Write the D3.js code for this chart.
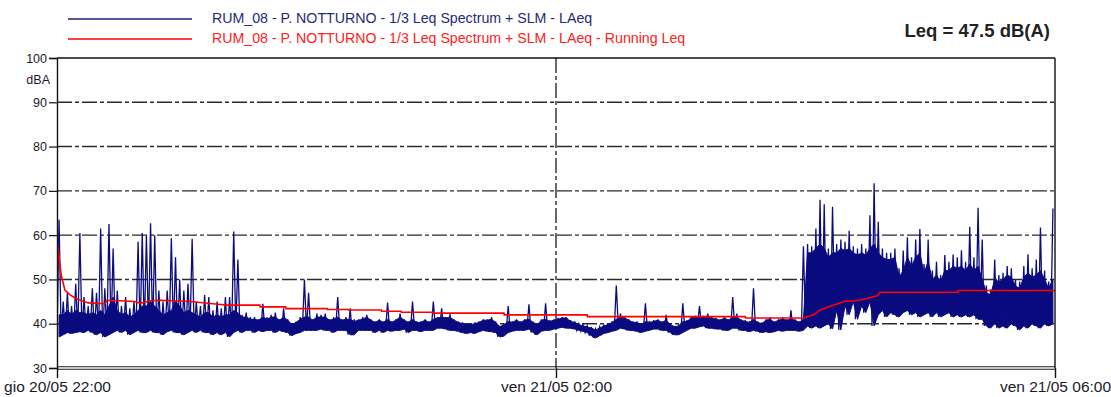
<!DOCTYPE html>
<html><head><meta charset="utf-8">
<script src="https://cdn.jsdelivr.net/npm/d3@7"></script>
<style>
body{margin:0;background:#fff}
svg{display:block;font-family:"Liberation Sans",Arial,sans-serif}
</style>
</head><body>
<svg id="chart" width="1111" height="397"></svg>
<script>
// ---------- data ----------
const yTicks = [30, 40, 50, 60, 70, 80, 90, 100];
const xTickMinutes = [0, 240, 480];
const xTickLabels = ["gio 20/05 22:00", "ven 21/05 02:00", "ven 21/05 06:00"];
const seriesNames = [
  "RUM_08 - P. NOTTURNO - 1/3 Leq Spectrum + SLM - LAeq",
  "RUM_08 - P. NOTTURNO - 1/3 Leq Spectrum + SLM - LAeq - Running Leq"
];
const leqLabel = "Leq = 47.5 dB(A)";
const yUnit = "dBA";
const binMinutes = 2; // each entry = a 2-minute bin

// lowest level in each bin
const laeqLow = [
  37,37.5,38,37.8,38,38.2,38,38.5,38,37.5,
  38,37,37.5,38,38.5,38,38.5,37.5,38,38.5,
  38,38,38.5,38,38,37.5,38.2,38.5,38,38,
  37.5,38,38.5,38,38.5,38,38,37.5,38,37.5,
  38,37,38,38.5,38,38.5,38.5,38,38.5,38.2,
  38.5,38.5,38,38.5,38.2,38,37.3,37.8,38,38.5,
  38.5,38.5,38.5,38.8,38.5,38.5,38,38.5,38.5,38.5,
  37.5,37.5,38.5,38.5,38.5,38.5,38,38.5,38,38.5,
  38.3,38.5,38.5,38.8,38,38.5,38.5,38.2,38.5,38.5,
  38.5,39,39,38.8,38.5,38.5,38.3,38,37.8,38,
  37.8,38.2,38.5,38.3,38.2,38,37,37.2,38,38.3,
  38.5,38.5,38.5,38.8,38,37.5,38.3,38.5,38.5,38.8,
  39,39.2,39,39,38.8,38.5,38.3,38,37.3,36.8,
  37.3,37.8,38,38.3,38.5,39,38.8,38.5,38.5,38.3,
  38,38.3,38.5,38.8,38.8,38.5,38.5,38,37.5,37.5,
  38,38.5,39,39,39.3,39.5,39,39,38.8,38.8,
  38.5,38.5,39,39,38.5,38.5,38.2,38.5,38.3,38,
  38.2,38,38.2,38.5,38.3,38.5,38.5,38.5,38.3,38.5,
  39.5,39,39.5,39,39.5,40,38.8,43,38.6,44,
  42,45,41,44,42.5,45,39.5,42,43,41.5,
  42.5,42,41.5,42.5,43,42,42.5,41.5,42,42.5,
  41.5,42.5,41.5,42,42.5,41.5,42,41.5,42,41.5,
  42,41,41,39.5,39,40,39,39.5,39,40,
  39.5,38.6,39.5,39,40,39.5,39,40,39.5,40
];
// top of the dense band in each bin
const laeqTypical = [
  42,42,43,42,43,42.5,42.5,42,42.5,42,
  43,42,44,46,43,42,42.5,41.5,42,43,
  44,44,45,44,43,42,42.5,43,45,44,
  42.5,43,42.5,42,41.5,42.5,42.5,41.5,42,41.5,
  42,42,43,42.5,41.5,41.5,41,41,40.8,41.5,
  41,41.5,41.5,40.8,41.5,40.8,39.8,40.3,41,41.5,
  41.5,40.8,41.5,41.5,41.5,40.8,41,41.5,40.8,41,
  41,40.5,40.8,41,41.5,40.8,40.3,40.8,40.3,41,
  40.3,40.8,41.5,40.8,40.3,41,40.3,40.3,40.8,40.3,
  41,41.3,41.5,41.3,41.5,40.8,40.3,40,39.8,39.8,
  40,40.3,40.8,40.8,41,40.3,39.3,39.8,40.5,40.3,
  40.8,40.3,40.8,41,40.3,39.8,40.8,41,40.5,40.8,
  41,41.3,41.3,40.5,40.3,39.8,39.5,39.3,39,38.6,
  39,39.5,39.8,40.3,41,41.5,41.3,40.8,40.3,40.3,
  39.8,40.5,40.3,40.5,40.8,40.3,40.8,39.8,39.3,39.5,
  40.5,40.5,41.3,41.5,41.5,41.5,41.8,41.3,41,40.8,
  41.3,40.8,41.5,41.5,40.8,40.5,40.3,41,40.3,40,
  40.8,41,40.3,40.8,41,40.8,41,40.8,40.3,41,
  56,56,57,58,57,55,56,56,57,56.5,
  57,56,55.5,56,55.5,57,58,56,55,54.5,
  54.5,55,50.5,52,55,53,55,56,51.5,54,
  50,51,49.5,52,52,53,52.5,53,52,53.5,
  52,53,50,47,46.5,50,49.5,50,51,50.5,
  48.5,48,50.5,51.5,50.5,51,52,50,48,50
];
// highest level (peaks) in each bin
const laeqHigh = [
  63.5,45,47,44,49,60.5,46,44,48,47,
  61.5,48,62.5,57,47.5,44,46,43.5,45,58.5,
  60.5,60,62.7,60,47.5,45,47.5,59.3,55,50,
  47.5,49,59.2,45,44,46.5,46,43,45,43.5,
  46,46,60.8,54.5,42,42.5,41.5,41.5,41,44.5,
  41.5,42,42.5,41,43.5,41,40,40.5,41.5,50,
  47,41,42.3,42,42.3,41,41.5,46,41,41.5,
  43.5,41,41,41.5,42,41,40.5,41,40.5,44.8,
  40.5,41,42.3,41,40.5,45,40.5,40.5,41,40.5,
  45,41.5,43.5,41.5,42.2,41,40.5,40.3,40,40,
  40.3,40.5,41,41,41.5,40.5,39.5,40,44,40.5,
  41,40.5,41,44.4,40.5,40,41,44.6,40.8,41,
  41.3,41.5,41.5,40.8,40.5,40,39.8,39.5,39.3,38.8,
  39.3,39.8,40,40.5,48.6,42.3,41.5,41,40.5,40.5,
  40,44.6,40.5,40.8,41,40.5,42,40,39.5,39.8,
  44.6,40.8,41.5,41.8,44,41.8,42.3,41.5,41.3,41,
  41.5,41,46,42.3,41,40.8,40.5,48,40.5,40.3,
  41,41.5,40.5,41,41.5,41,43,41,40.5,57.5,
  58,57.5,61.5,68,67,57,66.4,58,59,58.5,
  61,57.5,57,58,57,64.5,71.7,63,57,56,
  56,57,52.5,56.5,59.5,55,59,61.4,53.5,59,
  52,54,51,55.5,54,55.6,55,56.6,54,61.9,
  55,66.2,59,48.6,47.7,54.5,51,51.5,53,52.5,
  50,49.5,53,55.7,52.5,54.5,61.7,52,49.5,66
];

const runLeqMinute = [0,0.3,1,2,3.8,6.3,8.7,12,15,23,
  24,30,37.5,40,45,50,64,77.4,82,97.6,
  97.7,110,110.1,130,130.1,140,140.1,156,156.1,165.5,
  165.6,181,181.1,215,215.1,255,255.1,331,331.1,359,
  364,367,369.4,373.7,378.5,386,389.6,394.4,395.9,433.4,
  433.5,480];
const runLeq = [42,58,55,51,47.6,46.5,45.8,45.2,44.7,44.5,
  45.3,45.2,45.0,44.6,45.2,45.3,45.0,44.4,44.2,44.2,
  43.8,43.8,43.4,43.4,43.2,43.2,43.1,43.1,42.8,42.8,
  42.6,42.6,42.4,42.4,42.0,42.0,41.6,41.6,41.3,41.3,
  42.0,43.1,43.5,44.2,45.0,45.3,45.7,46.3,47.1,47.1,
  47.5,47.5];

// ---------- chart ----------
const svg = d3.select("#chart");
svg.append("rect").attr("width", 1111).attr("height", 397).attr("fill", "#fff");

const x = d3.scaleLinear().domain([0, 480]).range([57, 1055]);
const y = d3.scaleLinear().domain([30, 100]).range([368, 58]);
const gridColor = "#2a2a2a";
const dash = "15,3,4,3";
const blue = "#0b0b80";

// horizontal grid
svg.append("g").selectAll("line")
  .data(yTicks.filter(v => v > 30 && v < 100))
  .join("line")
  .attr("x1", x(0)).attr("x2", x(480))
  .attr("y1", d => y(d)).attr("y2", d => y(d))
  .attr("stroke", gridColor).attr("stroke-width", 1.4)
  .attr("stroke-dasharray", dash);

// middle vertical grid
svg.append("line")
  .attr("x1", x(240)).attr("x2", x(240))
  .attr("y1", y(100)).attr("y2", y(30))
  .attr("stroke", gridColor).attr("stroke-width", 1.4)
  .attr("stroke-dasharray", dash);

// clip
svg.append("clipPath").attr("id", "plot")
  .append("rect").attr("x", x(0)).attr("y", y(100))
  .attr("width", x(480) - x(0)).attr("height", y(30) - y(100));

// LAeq: dense band (low..typical) as area
const band = laeqLow.map((lo, i) => ({ t: i * binMinutes + binMinutes / 2, lo, hi: laeqTypical[i] }));
svg.append("path")
  .attr("clip-path", "url(#plot)")
  .attr("d", d3.area().x(d => x(d.t)).y0(d => y(d.lo)).y1(d => y(d.hi))(band))
  .attr("fill", blue).attr("stroke", blue).attr("stroke-width", 1);

// LAeq: min/max trace for each bin (peaks)
const pts = [];
laeqLow.forEach((lo, i) => {
  pts.push([i * binMinutes, lo]);
  pts.push([i * binMinutes + binMinutes / 2, laeqHigh[i]]);
});
const line = d3.line().x(d => x(d[0])).y(d => y(d[1]));
svg.append("path")
  .attr("clip-path", "url(#plot)")
  .attr("d", line(pts))
  .attr("fill", "none")
  .attr("stroke", blue)
  .attr("stroke-width", 1.3);

// running Leq
svg.append("path")
  .attr("clip-path", "url(#plot)")
  .attr("d", line(runLeqMinute.map((t, i) => [t, runLeq[i]])))
  .attr("fill", "none")
  .attr("stroke", "#ff0000")
  .attr("stroke-width", 1.6);

// frame
svg.append("line").attr("x1", x(0)).attr("x2", x(480))
  .attr("y1", y(100)).attr("y2", y(100))
  .attr("stroke", "#111").attr("stroke-width", 1.4);
[-1.2, 1.2].forEach(o => {
  svg.append("line").attr("x1", x(0)).attr("x2", x(480))
    .attr("y1", y(30) + o).attr("y2", y(30) + o)
    .attr("stroke", "#1a1a1a").attr("stroke-width", 1.1);
});
svg.append("line").attr("x1", x(480)).attr("x2", x(480))
  .attr("y1", y(100)).attr("y2", y(30))
  .attr("stroke", "#111").attr("stroke-width", 1.4);

// y axis
const yAxis = svg.append("g")
  .attr("transform", `translate(${x(0)},0)`)
  .call(d3.axisLeft(y).tickValues(yTicks).tickSize(8).tickPadding(2).tickFormat(d3.format("d")));
yAxis.select(".domain").attr("stroke", "#111").attr("stroke-width", 1.4);
yAxis.selectAll(".tick line").attr("stroke", "#111").attr("stroke-width", 1.2);
yAxis.selectAll("text").attr("font-size", 12.5).attr("fill", "#1a1a2a")
  .attr("font-family", "'Liberation Sans', Arial, sans-serif");

svg.append("text").attr("x", x(0) - 7).attr("y", y(95) + 1)
  .attr("text-anchor", "end").attr("dominant-baseline", "middle")
  .attr("font-size", 12.5).attr("fill", "#1a1a2a").text(yUnit);

// x axis
const xAxis = svg.append("g")
  .attr("transform", `translate(0,${y(30)})`)
  .call(d3.axisBottom(x).tickValues(xTickMinutes).tickSize(10).tickPadding(3)
    .tickFormat((d, i) => xTickLabels[i]));
xAxis.select(".domain").remove();
xAxis.selectAll(".tick line").attr("stroke", "#111").attr("stroke-width", 1.4);
xAxis.selectAll("text").attr("font-size", 15.5).attr("fill", "#1a1a2a")
  .attr("font-family", "'Liberation Sans', Arial, sans-serif");

// legend
const legendColors = ["#1c1c7c", "#ff0000"];
const legendText = ["#1f2a78", "#ff2020"];
const lg = svg.append("g");
seriesNames.forEach((name, i) => {
  const ly = 19 + i * 20;
  lg.append("line").attr("x1", 68).attr("x2", 192).attr("y1", ly).attr("y2", ly)
    .attr("stroke", legendColors[i]).attr("stroke-width", 1.6);
  lg.append("text").attr("x", 212).attr("y", ly).attr("dominant-baseline", "middle")
    .attr("font-size", 14.2).attr("fill", legendText[i]).text(name);
});

svg.append("text").attr("x", 1050).attr("y", 32)
  .attr("text-anchor", "end").attr("dominant-baseline", "middle")
  .attr("font-size", 18.5).attr("font-weight", "bold").attr("fill", "#222").text(leqLabel);
</script>
</body></html>
